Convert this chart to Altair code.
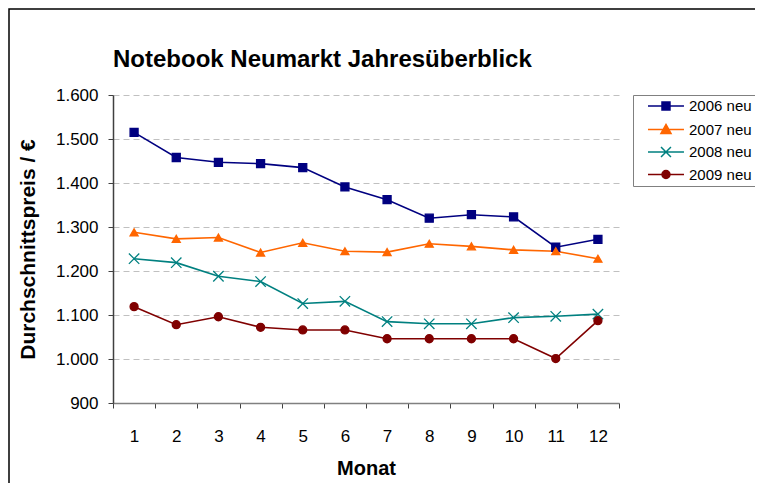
import altair as alt
import pandas as pd

# ---- data ----
months = list(range(1, 13))
series = ["2006 neu", "2007 neu", "2008 neu", "2009 neu"]
p2006 = [1515, 1458, 1447, 1444, 1435, 1391, 1362, 1320, 1328, 1323, 1254, 1272]
p2007 = [1288, 1273, 1276, 1242, 1264, 1245, 1243, 1262, 1256, 1248, 1245, 1228]
p2008 = [1228, 1219, 1188, 1176, 1126, 1131, 1085, 1080, 1080, 1094, 1097, 1102]
p2009 = [1119, 1078, 1096, 1072, 1066, 1066, 1046, 1046, 1046, 1046, 1001, 1087]
y_ticks = [900, 1000, 1100, 1200, 1300, 1400, 1500, 1600]

colors = ["#000080", "#FF6600", "#008080", "#800000"]
marker_shapes = ["square", "triangle-up", "M-1.3,-1.3L1.3,1.3M-1.3,1.3L1.3,-1.3", "circle"]
# legend symbols: a short line with the marker in its middle (unit = 7px)
legend_shapes = [
    "M0.57,0H5.71M2.57,-0.57H3.71V0.57H2.57Z",
    "M0.57,0H5.71M3.14,-0.72L3.86,0.57H2.42Z",
    "M0.57,0H5.71M2.43,-0.71L3.85,0.71M2.43,0.71L3.85,-0.71",
    "M0.57,0H5.71M2.57,0A0.57,0.57,0,1,0,3.71,0A0.57,0.57,0,1,0,2.57,0Z",
]

rows = []
for s, vals, c, sh in zip(series, [p2006, p2007, p2008, p2009], colors, marker_shapes):
    for m, v in zip(months, vals):
        rows.append({"Monat": m, "Preis": v, "Serie": s, "Farbe": c, "Form": sh})
df = pd.DataFrame(rows)

FONT = "Liberation Sans"

x_enc = alt.X(
    "Monat:O",
    bandPosition=0.5,
    scale=alt.Scale(type="band", paddingInner=0, paddingOuter=0),
    axis=alt.Axis(
        labelAngle=0, labelFontSize=17, labelBaseline="alphabetic", labelPadding=33,
        tickBand="extent", tickSize=5, tickColor="#404040",
        domainColor="#808080", domainWidth=1.5, grid=False,
        title="Monat", titleFontSize=20, titleFontWeight="bold",
        titleX=253, titleY=71, titleBaseline="alphabetic", titleAlign="center",
    ),
)
y_enc = alt.Y(
    "Preis:Q",
    scale=alt.Scale(domain=[900, 1600], nice=False, zero=False),
    axis=alt.Axis(
        values=y_ticks,
        labelExpr="replace(format(datum.value, ','), ',', '.')",
        labelFontSize=17, labelPadding=10, tickSize=5, tickColor="#404040",
        domainColor="#404040", domainWidth=1.5,
        grid=True, gridColor="#c0c0c0", gridDash=[6, 4], gridWidth=1,
        title="Durchschnittspreis / €", titleFontSize=21, titleFontWeight="bold",
        titleX=-79, titleY=154, titleAngle=270, titleBaseline="alphabetic", titleAlign="center",
    ),
)

# chart frame (only its left and top edges fall inside the page, as in the reference)
border_df = pd.DataFrame({"k": [0]})
border = alt.Chart(border_df).mark_rect(
    fillOpacity=0, stroke="black", strokeWidth=1.5
).encode(
    x=alt.value(-104), x2=alt.value(700), y=alt.value(-86), y2=alt.value(500)
)

lines = alt.Chart(df).mark_line(strokeWidth=1.6).encode(
    x=x_enc, y=y_enc,
    color=alt.Color("Farbe:N", scale=None),
    detail="Serie:N",
    order="Monat:O",
)
points = alt.Chart(df).mark_point(filled=True, opacity=1, size=64, strokeWidth=1.3).encode(
    x=x_enc, y=y_enc,
    color=alt.Color("Farbe:N", scale=None),
    stroke=alt.Stroke("Farbe:N", scale=None),
    shape=alt.Shape("Form:N", scale=None),
)

leg = alt.Legend(
    title=None, orient="none", legendX=520, legendY=0,
    strokeColor="#808080", fillColor="white", padding=3,
    symbolSize=196, symbolStrokeWidth=1.5,
    labelFont=FONT, labelFontSize=15, labelColor="black", labelOffset=37,
    rowPadding=6.5,
)
legend_layer = alt.Chart(df).mark_point(filled=True, opacity=1, strokeWidth=1.5).encode(
    x=x_enc, y=y_enc,
    color=alt.Color("Serie:N", scale=alt.Scale(domain=series, range=colors), legend=leg),
    stroke=alt.Stroke("Serie:N", scale=alt.Scale(domain=series, range=colors), legend=leg),
    shape=alt.Shape("Serie:N", scale=alt.Scale(domain=series, range=legend_shapes), legend=leg),
).transform_filter("datum.Monat > 100")

chart = alt.layer(border, lines, points, legend_layer).properties(
    width=506,
    height=308,
    autosize=alt.AutoSizeParams(type="none"),
    padding={"left": 105, "top": 87, "right": 136, "bottom": 80},
    title=alt.TitleParams(
        text="Notebook Neumarkt Jahresüberblick", anchor="start", frame="group", font=FONT,
        fontSize=24, fontWeight="bold", color="black", offset=-83, baseline="alphabetic",
    ),
).configure_view(strokeWidth=0).configure_axis(
    labelFont=FONT, titleFont=FONT, labelColor="black", titleColor="black"
)

chart.save("out.html", embed_options={"renderer": "svg", "actions": False})
